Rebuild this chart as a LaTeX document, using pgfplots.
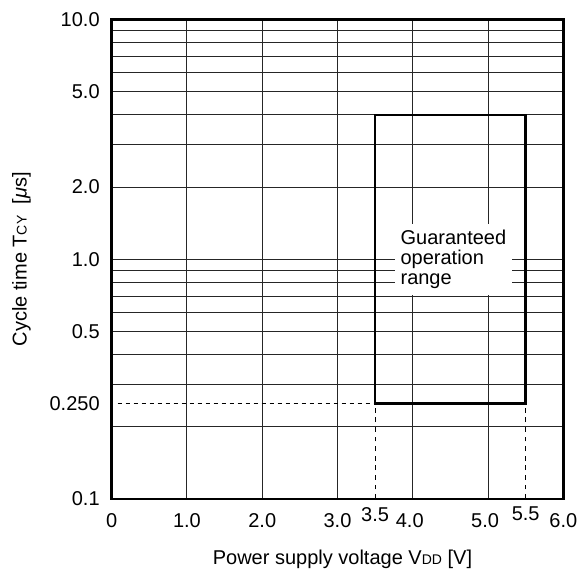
\documentclass[border=0pt]{standalone}
\usepackage{fontspec}
\setmainfont{Liberation Sans}
\usepackage{pgfplots}
\pgfplotsset{compat=1.18}

\begin{document}
\begin{tikzpicture}
\begin{axis}[
    scale only axis,
    width=225.8pt, height=239.75pt,
    xmin=0, xmax=6,
    ymin=0.1, ymax=10,
    ymode=log,
    clip=false,
    axis line style={line width=1.3pt},
    tick style={draw=none},
    xtick={0,1,2,3,4,5,6},
    xticklabels={0,1.0,2.0,3.0,\hspace*{-3pt}4.0,\hspace*{-3pt}5.0,6.0},
    extra x ticks={3.5,5.5},
    extra x tick labels={3.5,5.5},
    extra x tick style={grid=none, xticklabel style={yshift=3pt}},
    ytick={0.1,0.25,0.5,1,2,5,10},
    yticklabels={0.1,0.250,0.5,1.0,2.0,5.0,10.0},
    minor ytick={0.2,0.3,0.4,0.5,0.6,0.7,0.8,0.9,1,2,3,4,5,6,7,8,9},
    yminorgrids=true,
    xmajorgrids=true,
    major grid style={line width=0.5pt, black!85},
    minor grid style={line width=0.5pt, black!85},
    xticklabel style={yshift=-3.5pt},
    yticklabel style={xshift=-2.5pt},
    xlabel={Power supply voltage V{\scriptsize DD} [V]},
    ylabel={Cycle time T{\scriptsize CY}\ \ [\textit{μ}s]},
    xlabel style={at={(axis description cs:0.511,-0.125)}, anchor=center},
    ylabel style={at={(axis description cs:-0.2,0.5)}, anchor=center},
]
\coordinate (sw) at (rel axis cs:0,0);

% dashed guides to the 0.250 us / 3.5 V corner
\addplot[black, line width=0.5pt, dash pattern=on 2pt off 2pt] coordinates {(0.08,0.25)(3.5,0.25)};
\addplot[black, line width=0.5pt, dash pattern=on 2.4pt off 2.4pt] coordinates {(3.5,0.1)(3.5,0.25)};
\addplot[black, line width=0.5pt, dash pattern=on 2.4pt off 2.4pt] coordinates {(5.5,0.1)(5.5,0.25)};

% guaranteed operation range
\addplot[black, line width=1.3pt] coordinates {(3.5,0.25)(3.5,4)(5.5,4)(5.5,0.25)} -- cycle;

\node[fill=white, align=left, inner xsep=3pt, inner ysep=3pt,
      font={\fontsize{10pt}{10pt}\selectfont}] at (axis cs:4.54,1.0)
      {Guaranteed\\operation\\range};
\end{axis}
\pgfresetboundingbox
\path (sw) ++(-55.85pt,-37.5pt) rectangle ++(289pt,287pt);
\end{tikzpicture}
\end{document}
